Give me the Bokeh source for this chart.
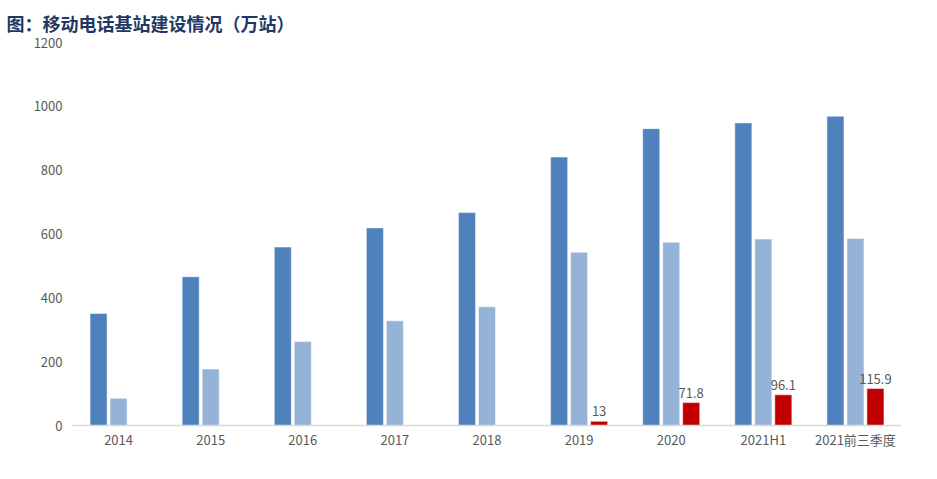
from bokeh.plotting import figure
from bokeh.models import ColumnDataSource, FactorRange, Range1d, LabelSet, Legend, LegendItem
from bokeh.core.properties import value
from bokeh.transform import dodge
from bokeh.embed import file_html
from bokeh.resources import INLINE

categories = ["2014", "2015", "2016", "2017", "2018", "2019", "2020", "2021H1", "2021前三季度"]
mobile = [351, 466, 559, 619, 667, 841, 930, 948, 969]
g4 = [85, 177, 263, 328, 372, 543, 574, 584, 586]
g5 = [None, None, None, None, None, 13, 71.8, 96.1, 115.9]
g5_labels = ["", "", "", "", "", "13", "71.8", "96.1", "115.9"]
series_names = ["移动电话基站数", "4G基站数", "5G基站数"]
yticks = [0, 200, 400, 600, 800, 1000, 1200]

FONT = "Noto Sans CJK SC"

src = ColumnDataSource(dict(cat=categories, mobile=mobile, g4=g4,
                            g5=[v if v is not None else 0 for v in g5],
                            g5lab=g5_labels))

p = figure(frame_width=829, frame_height=383,
           x_range=FactorRange(factors=categories, range_padding=0),
           y_range=Range1d(0, 1200), output_backend="svg", toolbar_location=None,
           min_border_left=72, min_border_right=20, min_border_top=0, min_border_bottom=0)

p.title.text = "图：移动电话基站建设情况（万站）"
p.title.text_font = "Noto Sans CJK SC"
p.title.text_font_style = "bold"
p.title.text_font_size = "18px"
p.title.text_color = "#1F3864"
p.title.offset = -66
p.title.standoff = 14

w = 0.185
off = 0.217
r1 = p.vbar(x=dodge("cat", -off, range=p.x_range), top="mobile", width=w, source=src,
            fill_color="#4F81BD", line_color="white", line_width=0.5)
r2 = p.vbar(x=dodge("cat", 0, range=p.x_range), top="g4", width=w, source=src,
            fill_color="#95B3D7", line_color="white", line_width=0.5)
r3 = p.vbar(x=dodge("cat", off, range=p.x_range), top="g5", width=w, source=src,
            fill_color="#C00000", line_color="white", line_width=0.5)

labels = LabelSet(x=dodge("cat", off, range=p.x_range), y="g5", text="g5lab", source=src,
                  text_align="center", text_baseline="bottom", y_offset=5,
                  text_font_size=value("13px"), text_color=value("#595959"),
                  text_font=value(FONT))
p.add_layout(labels)

p.xgrid.grid_line_color = None
p.ygrid.grid_line_color = None
p.outline_line_color = None

p.xaxis.axis_line_color = "#D9D9D9"
p.xaxis.axis_line_width = 1.5
p.xaxis.major_tick_line_color = None
p.xaxis.minor_tick_line_color = None
p.xaxis.major_tick_out = 0
p.xaxis.major_tick_in = 0
p.xaxis.major_label_text_font = FONT
p.xaxis.major_label_text_font_size = "13px"
p.xaxis.major_label_text_color = "#595959"
p.xaxis.major_label_standoff = 4

p.yaxis.ticker = yticks
p.yaxis.axis_line_color = None
p.yaxis.major_tick_line_color = None
p.yaxis.minor_tick_line_color = None
p.yaxis.major_tick_out = 0
p.yaxis.major_tick_in = 0
p.yaxis.major_label_text_font = FONT
p.yaxis.major_label_text_font_size = "13px"
p.yaxis.major_label_text_color = "#595959"
p.yaxis.major_label_standoff = 10

legend = Legend(items=[LegendItem(label=series_names[0], renderers=[r1]),
                       LegendItem(label=series_names[1], renderers=[r2]),
                       LegendItem(label=series_names[2], renderers=[r3])],
                orientation="horizontal", location="center",
                label_text_font=FONT, label_text_font_size="13px", label_text_color="#595959",
                label_height=14, glyph_width=9, glyph_height=9, spacing=18, label_standoff=3,
                border_line_color=None, background_fill_alpha=0, padding=0, margin=0)
p.add_layout(legend, "below")

open("out.html", "w").write(file_html(p, INLINE))
